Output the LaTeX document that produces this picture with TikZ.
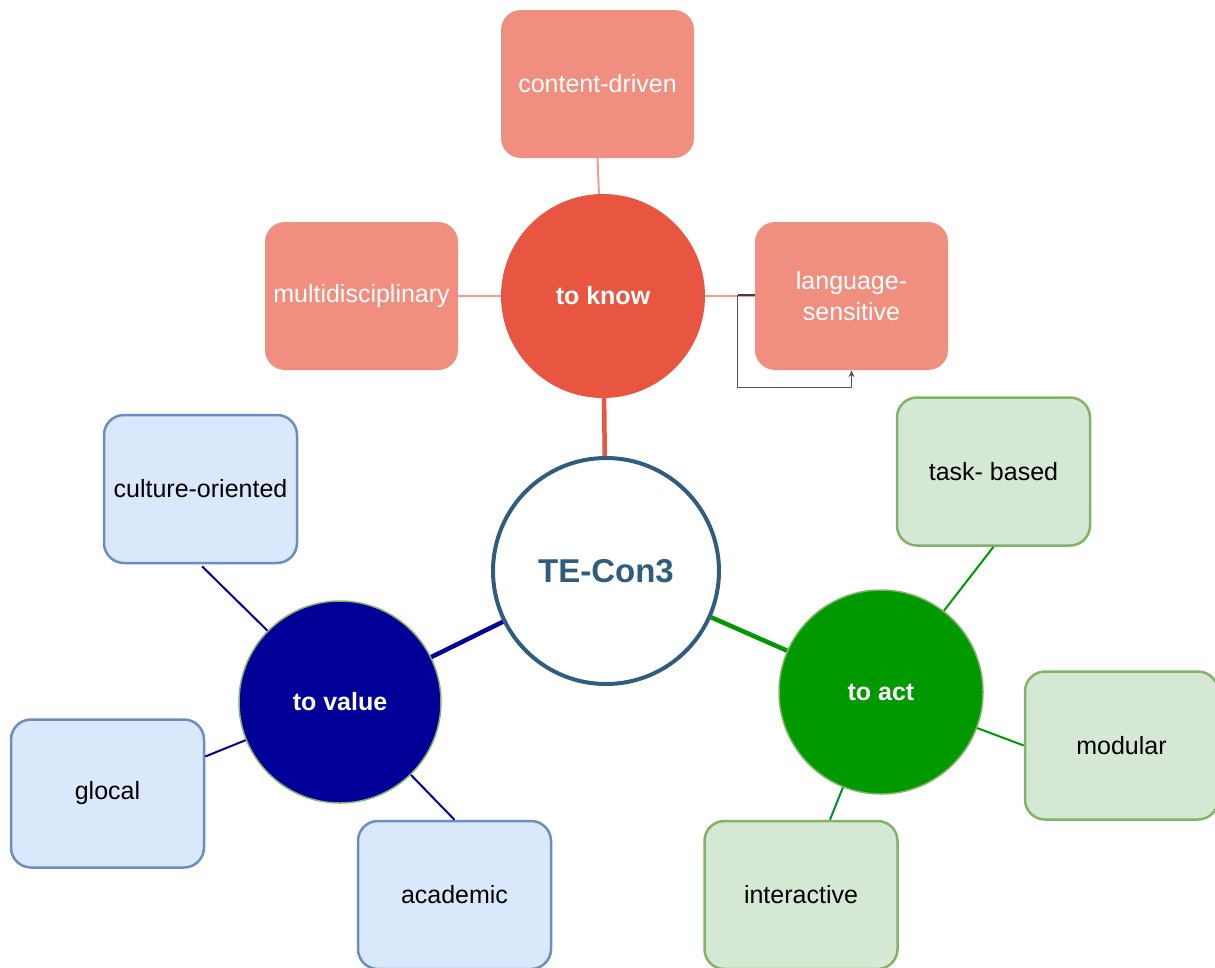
\documentclass[tikz,border=0pt]{standalone}
\usepackage{fontspec}
\setmainfont{Liberation Sans}
\usetikzlibrary{arrows.meta,calc}
\definecolor{knowfill}{HTML}{E85642}
\definecolor{knowbox}{HTML}{F08E80}
\definecolor{knowline}{HTML}{F19C8F}
\definecolor{valfill}{HTML}{000099}
\definecolor{valbox}{HTML}{DAE8FC}
\definecolor{valstroke}{HTML}{6C8EBF}
\definecolor{actfill}{HTML}{009900}
\definecolor{actbox}{HTML}{D5E8D4}
\definecolor{actstroke}{HTML}{82B366}
\definecolor{hubcol}{HTML}{305C7E}
\definecolor{loopcol}{HTML}{555555}
\tikzset{
  txt/.style={font=\fontsize{25}{31}\selectfont, align=center},
  leaf/.style={txt, rectangle, rounded corners=20pt, minimum width=193pt, minimum height=148pt, inner sep=0pt},
  knowleaf/.style={leaf, fill=knowbox, text=white},
  valleaf/.style={leaf, fill=valbox, draw=valstroke, line width=2.5pt},
  actleaf/.style={leaf, fill=actbox, draw=actstroke, line width=2.5pt},
  hubnode/.style={txt, circle, inner sep=0pt, font=\fontsize{25}{31}\selectfont\bfseries, text=white},
  thin/.style={line width=2pt},
  thick/.style={line width=4.5pt},
}
\begin{document}
\begin{tikzpicture}[x=1pt,y=-1pt]
\useasboundingbox (0,0) rectangle (1215,967);

% central topic
\node[circle, draw=hubcol, line width=4pt, fill=white, minimum size=226pt, inner sep=0pt,
      font=\fontsize{33}{40}\selectfont\bfseries, text=hubcol] (hub) at (606,571) {TE-Con3};

% three branches
\node[hubnode, fill=knowfill, minimum size=204pt] (know) at (603,296) {to know};
\node[hubnode, fill=valfill, draw=actstroke, line width=1.5pt, minimum size=202pt] (value) at (340,702) {to value};
\node[hubnode, fill=actfill, draw=actstroke, line width=1.5pt, minimum size=204pt] (act) at (881,692) {to act};

% leaves of "to know"
\node[knowleaf] (content) at (597.5,84) {content-driven};
\node[knowleaf] (multi) at (361.5,296) {multidisciplinary};
\node[knowleaf] (lang) at (851.5,296) {language-\\sensitive};

% leaves of "to value"
\node[valleaf] (culture) at (200.5,489) {culture-oriented};
\node[valleaf] (glocal) at (107.5,793.5) {glocal};
\node[valleaf] (academic) at (454.5,895) {academic};

% leaves of "to act"
\node[actleaf] (task) at (993.5,471.5) {task- based};
\node[actleaf] (modular) at (1121.5,745.5) {modular};
\node[actleaf] (inter) at (801,895) {interactive};

% branch links
\draw[thick, knowfill] (know) -- (hub);
\draw[thick, valfill] (value) -- (hub);
\draw[thick, actfill] (act) -- (hub);

% leaf links
\draw[thin, knowline] (content.south) -- (know);
\draw[thin, knowline] (multi.east) -- (know);
\draw[thin, knowline] (know) -- (lang.west);

\draw[thin, valfill] (value) -- ($(culture.south)+(1.5,2)$);
\draw[thin, valfill] (value) -- ($(glocal.east)+(0,-37)$);
\draw[thin, valfill] (value) -- (academic.north);

\draw[thin, actfill] (act) -- (task.south);
\draw[thin, actfill] (act) -- (modular.west);
\draw[thin, actfill!70!teal] (act) -- ($(inter.north)+(29,0)$);

% self loop on language-sensitive
\coordinate (loopA) at ($(lang.west)+(-17,-1)$);
\coordinate (loopB) at ($(lang.south)+(0,17)$);
\draw[line width=1.2pt, black!75] (loopA) -- (lang.west |- loopA);
\draw[line width=1.2pt, loopcol, -{Stealth[length=7pt,width=6pt]}] (loopA) |- (loopB) -- (lang.south);
\end{tikzpicture}
\end{document}
